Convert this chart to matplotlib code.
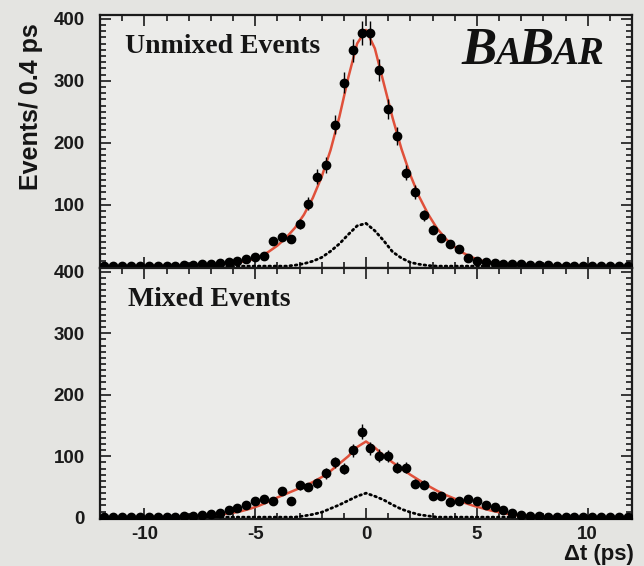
import numpy as np
import matplotlib
matplotlib.use("Agg")
import matplotlib.pyplot as plt
from matplotlib.ticker import MultipleLocator, FixedLocator
from matplotlib.transforms import offset_copy

plt.rcParams['axes.unicode_minus'] = False

# ---------------- data ----------------
bin_centers = np.round(np.arange(-11.8, 11.9, 0.4), 1)

unmixed_counts = [1, 1, 1, 1, 2, 2, 2, 2, 2, 3, 3, 4, 5, 6, 8, 10, 12, 16, 18, 42,
                  48, 45, 69, 102, 145, 164, 229, 297, 349, 377,
                  377, 318, 255, 211, 152, 121, 83, 60, 46, 36, 29, 14, 10, 7, 6,
                  5, 4, 4, 3, 3, 3, 2, 2, 2, 2, 1, 1, 1, 1, 1]
mixed_counts = [1, 1, 1, 1, 1, 2, 2, 2, 2, 3, 3, 4, 6, 8, 13, 16, 21, 28, 30, 27,
                43, 28, 53, 50, 56, 72, 90, 80, 110, 140,
                113, 101, 100, 81, 81, 55, 54, 36, 36, 25, 27, 30, 27, 21, 17,
                12, 8, 4, 3, 3, 2, 2, 2, 1, 1, 1, 1, 1, 1, 1]

fit_t = [-12, -8, -7.2, -6.8, -6.4, -6.0, -5.6, -5.2, -4.8, -4.4, -4.0, -3.6, -3.2,
         -2.8, -2.4, -2.0, -1.6, -1.2, -0.8, -0.4, 0.0, 0.4, 0.8, 1.2, 1.6, 2.0,
         2.4, 2.8, 3.2, 3.6, 4.0, 4.4, 4.8, 5.2, 5.6, 6.0, 6.4, 6.8, 7.2, 8, 12]
unmixed_fit = [0.5, 2, 3, 4, 5, 6, 8, 11, 16, 24, 34, 47, 63,
               84, 111, 145, 188, 242, 305, 360, 382, 352, 296, 240, 190, 148,
               113, 85, 62, 45, 32, 22, 15, 10, 7, 5, 4, 3, 3, 2, 0.5]
mixed_fit = [0.5, 1.5, 3, 4, 6, 8, 11, 15, 20, 26, 33, 39, 45,
             51, 58, 66, 76, 88, 100, 115, 124, 114, 101, 90, 80, 70,
             61, 52, 44, 37, 31, 25, 20, 16, 12, 9, 6, 4, 3, 1.5, 0.5]

bkg_t = [-12, -4.0, -3.6, -3.2, -2.8, -2.4, -2.0, -1.6, -1.2, -0.8, -0.4, 0.0,
         0.4, 0.8, 1.2, 1.6, 2.0, 2.4, 2.8, 3.2, 3.6, 4.0, 12]
unmixed_bkg = [1, 1, 1, 2.5, 5, 9, 15, 25, 37, 52, 66, 70,
               58, 42, 24, 14, 7, 4, 2, 1, 1, 1, 1]
mixed_bkg = [1, 1, 1, 1, 3, 5.5, 9, 15, 21, 28, 35, 40,
             35, 29, 21, 14, 9, 5, 3, 1, 1, 1, 1]

panel_titles = ["Unmixed Events", "Mixed Events"]
x_ticks = [-10, -5, 0, 5, 10]

# ---------------- style ----------------
fig_bg = '#e4e4e1'
ax_bg = '#ebebe9'
fit_color = '#e0503a'
sans = 'Liberation Sans'
serif = 'Liberation Serif'
ink = '#1a1a1a'

W, H = 644, 566
fig = plt.figure(figsize=(W / 100, H / 100), dpi=100, facecolor=fig_bg)

left = 100 / W
width = (632 - 100) / W
top_ax = fig.add_axes([left, 1 - 268 / H, width, (268 - 15) / H])
bot_ax = fig.add_axes([left, 1 - 519 / H, width, (519 - 268) / H], sharex=top_ax)

panels = [
    (top_ax, unmixed_counts, unmixed_fit, unmixed_bkg, panel_titles[0], 0.047),
    (bot_ax, mixed_counts, mixed_fit, mixed_bkg, panel_titles[1], 0.053),
]

for ax, counts, fit, bkg, title, tx in panels:
    ax.set_facecolor(ax_bg)
    counts = np.asarray(counts, dtype=float)
    ax.plot(fit_t, fit, color=fit_color, lw=1.8, zorder=2)
    ax.plot(bkg_t, bkg, color='black', lw=2.0, linestyle=(0, (0.6, 1.3)),
            zorder=2, dash_capstyle='round')
    ax.errorbar(bin_centers, counts, yerr=np.sqrt(counts), fmt='o', color='black',
                ms=6, elinewidth=1.0, capsize=0, zorder=3)
    ax.set_xlim(-12, 12)
    ax.set_ylim(-2, 406)
    ax.xaxis.set_major_locator(FixedLocator(x_ticks))
    ax.xaxis.set_minor_locator(MultipleLocator(1))
    ax.yaxis.set_minor_locator(MultipleLocator(10))
    ax.tick_params(which='both', direction='in', top=True, right=True,
                   colors=ink, width=1.2)
    ax.tick_params(which='major', length=8)
    ax.tick_params(which='minor', length=4)
    ax.tick_params(axis='y', which='major', pad=11, labelsize=13.5)
    ax.tick_params(axis='x', which='major', pad=5, labelsize=13.5)
    for sp in ax.spines.values():
        sp.set_linewidth(1.6)
        sp.set_color(ink)
    ax.text(tx, 0.85, title, transform=ax.transAxes,
            fontsize=20, fontweight='bold', family=serif, va='baseline',
            color='#151515')

# top panel: no x labels, hide 0 label
top_ax.tick_params(axis='x', labelbottom=False)
top_ax.set_yticks([0, 100, 200, 300, 400])
top_ax.set_yticklabels(['', '100', '200', '300', '400'],
                       fontfamily=sans, fontweight='bold', color=ink)
bot_ax.set_yticks([0, 100, 200, 300, 400])
bot_ax.set_yticklabels(['0', '100', '200', '300', '400'],
                       fontfamily=sans, fontweight='bold', color=ink)
bot_ax.set_xticks(x_ticks)
bot_ax.set_xticklabels([str(v) for v in x_ticks], fontfamily=sans,
                       fontweight='bold', color=ink)

# y label
fig.text(31 / W, 1 - 107 / H, "Events/ 0.4 ps", rotation=90, ha='center',
         va='center', fontsize=18, fontweight='bold', family=sans, color='#151515')

# x label
fig.text(634 / W, 1 - 560 / H, "\u0394t (ps)", ha='right', va='baseline',
         fontsize=16, fontweight='bold', family=sans, color='#151515')

# BaBar logo
renderer = fig.canvas.get_renderer()
parts = [("B", 38), ("A", 28), ("B", 38), ("AR", 28)]
dx = 0.0
for s, size in parts:
    tr = offset_copy(top_ax.transAxes, fig=fig, x=dx, y=0, units='dots')
    t = top_ax.text(0.68, 0.805, s, transform=tr, fontsize=size, fontweight='bold',
                    fontstyle='italic', family=serif, va='baseline', ha='left',
                    color='#111111')
    dx += t.get_window_extent(renderer).width - 2

fig.savefig("out.png", dpi=100, facecolor=fig_bg)
